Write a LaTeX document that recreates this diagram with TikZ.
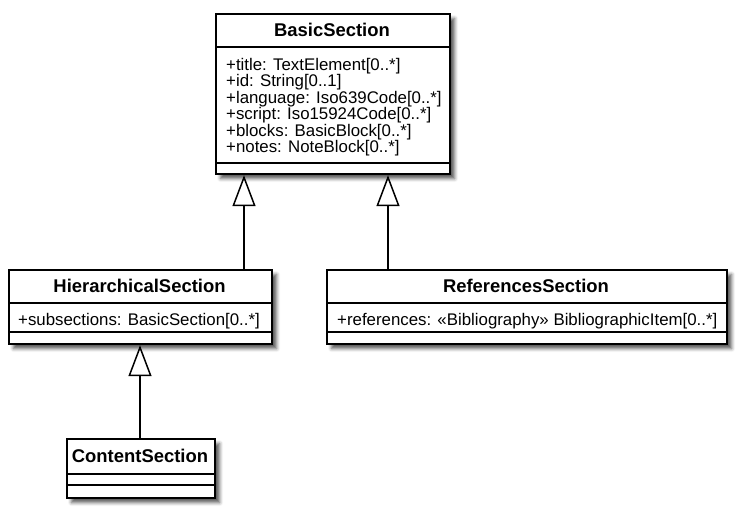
\documentclass[tikz,border=0pt]{standalone}
\usepackage{fontspec}
\setmainfont{Liberation Sans}
\usetikzlibrary{arrows.meta,shadows.blur}
\begin{document}
\begin{tikzpicture}[x=1bp,y=-1bp]
\tikzset{
 cls/.style={draw, line width=2.2bp, fill=white, inner sep=0, anchor=north west,
   blur shadow={shadow xshift=4.5bp, shadow yshift=-4.5bp, shadow blur radius=3.5bp, shadow opacity=65}},
 div/.style={line width=2bp},
 ttl/.style={font=\fontsize{18.5}{18.5}\selectfont\bfseries, anchor=base, inner sep=0},
 att/.style={font=\fontsize{16.9}{16.9}\selectfont, anchor=base west, inner sep=0},
 gen/.style={line width=1.5bp, -{Triangle[open, length=31bp, width=23bp, line width=1.5bp]}}
}
\useasboundingbox (0,0) rectangle (741,514);
% BasicSection
\node[cls, minimum width=234bp, minimum height=160bp] (basic) at (215,13) {};
\node[ttl] (basicT) at (332,36.6) {BasicSection};
\draw[div] (215,47) -- (449,47);
\draw[div] (215,163) -- (449,163);
\node[att] (b1) at (226,70.5) {+title: TextElement[0..*]};
\node[att] (b2) at (226,87) {+id: String[0..1]};
\node[att] (b3) at (226,103.5) {+language: Iso639Code[0..*]};
\node[att] (b4) at (226,120) {+script: Iso15924Code[0..*]};
\node[att] (b5) at (226,136.5) {+blocks: BasicBlock[0..*]};
\node[att] (b6) at (226,153) {+notes: NoteBlock[0..*]};
% HierarchicalSection
\node[cls, minimum width=263bp, minimum height=74bp] (hier) at (8,269) {};
\node[ttl] (hierT) at (139.5,292.6) {HierarchicalSection};
\draw[div] (8,303) -- (271,303);
\draw[div] (8,332) -- (271,332);
\node[att] (h1) at (18,325) {+subsections: BasicSection[0..*]};
% ReferencesSection
\node[cls, minimum width=400bp, minimum height=74bp] (refs) at (326,269) {};
\node[ttl] (refsT) at (526,292.6) {ReferencesSection};
\draw[div] (326,303) -- (726,303);
\draw[div] (326,332) -- (726,332);
\node[att] (r1) at (337,325) {+references: «Bibliography» BibliographicItem[0..*]};
% ContentSection
\node[cls, minimum width=148bp, minimum height=59bp] (cont) at (66,438) {};
\node[ttl] (contT) at (140,462.6) {ContentSection};
\draw[div] (66,474) -- (214,474);
\draw[div] (66,485) -- (214,485);
% generalizations
\coordinate (gl) at (244,0);
\coordinate (gr) at (388,0);
\coordinate (gc) at (140,0);
\draw[gen] (hier.north -| gl) -- (basic.south -| gl);
\draw[gen] (refs.north -| gr) -- (basic.south -| gr);
\draw[gen] (cont.north -| gc) -- (hier.south -| gc);
\end{tikzpicture}
\end{document}
